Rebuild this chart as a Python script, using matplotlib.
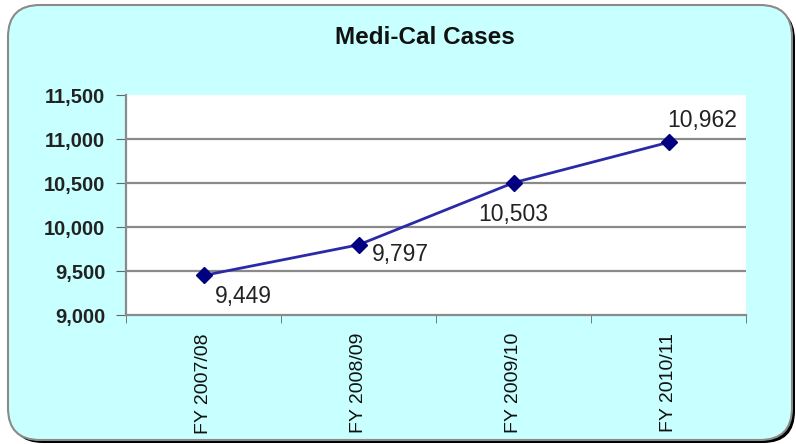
import numpy as np
import matplotlib
matplotlib.use("Agg")
import matplotlib.pyplot as plt
from matplotlib.patches import FancyBboxPatch
from matplotlib.ticker import FuncFormatter

years = ["FY 2007/08", "FY 2008/09", "FY 2009/10", "FY 2010/11"]
cases = [9449, 9797, 10503, 10962]
# label offsets (points) for each data label
offsets = [(29, -15), (30, -7), (0, -23), (24, 16)]

plt.rcParams['font.family'] = ['Liberation Sans', 'DejaVu Sans']

fig = plt.figure(figsize=(7.96, 4.44), dpi=100)
fig.patch.set_facecolor("white")

# rounded background panel with a dark shadow
shadow = FancyBboxPatch((0.11, 0.01), 7.84, 4.35,
                        boxstyle="round,pad=0,rounding_size=0.32",
                        transform=fig.dpi_scale_trans, facecolor="black",
                        edgecolor="none", zorder=0)
panel = FancyBboxPatch((0.08, 0.04), 7.84, 4.35,
                       boxstyle="round,pad=0,rounding_size=0.32",
                       transform=fig.dpi_scale_trans, facecolor="#C8FFFF",
                       edgecolor="#8a8a8a", linewidth=1.5, zorder=1)
fig.patches.extend([shadow, panel])

ax = fig.add_axes([126/796, 1-315/444, 620/796, 220/444])
ax.set_facecolor("white")
ax.set_zorder(2)

x = np.arange(len(years))
ax.plot(x, cases, color="#2a2aa8", linewidth=2, marker="D", markersize=8,
        markerfacecolor="#000080", markeredgecolor="#000080", zorder=3)

for xi, v, off in zip(x, cases, offsets):
    ax.annotate(f"{v:,}", (xi, v), xytext=off, textcoords="offset points",
                ha="center", va="center", fontsize=16.5, color="#222222")

ax.set_xlim(-0.5, len(years) - 0.5)
ax.set_ylim(9000, 11500)
ax.set_yticks(np.arange(9000, 11501, 500))
ax.yaxis.set_major_formatter(FuncFormatter(lambda v, p: f"{int(v):,}"))
for t in [9500, 10000, 10500, 11000]:
    ax.axhline(t, color="#8a8a8a", linewidth=1.6, zorder=1)

ax.set_xticks(x)
ax.set_xticklabels(years, rotation=90, fontsize=14, color="#111111")
ax.set_xticks(np.arange(-0.5, len(years)), minor=True)
ax.tick_params(axis="x", which="major", length=0, pad=13)
ax.tick_params(axis="x", which="minor", length=6, color="#666666", direction="out")
ax.tick_params(axis="y", length=7, color="#666666", direction="out", pad=8)
for lab in ax.get_yticklabels():
    lab.set_fontsize(14.5)
    lab.set_fontweight("bold")
    lab.set_color("#222222")

for s in ["top", "right"]:
    ax.spines[s].set_visible(False)
for s in ["left", "bottom"]:
    ax.spines[s].set_color("#8a8a8a")
    ax.spines[s].set_linewidth(1.6)

fig.text(425/796, 1-38/444, "Medi-Cal Cases", ha="center", va="center",
         fontsize=17.5, fontweight="bold", color="#111111")

fig.savefig("out.png", dpi=100)
